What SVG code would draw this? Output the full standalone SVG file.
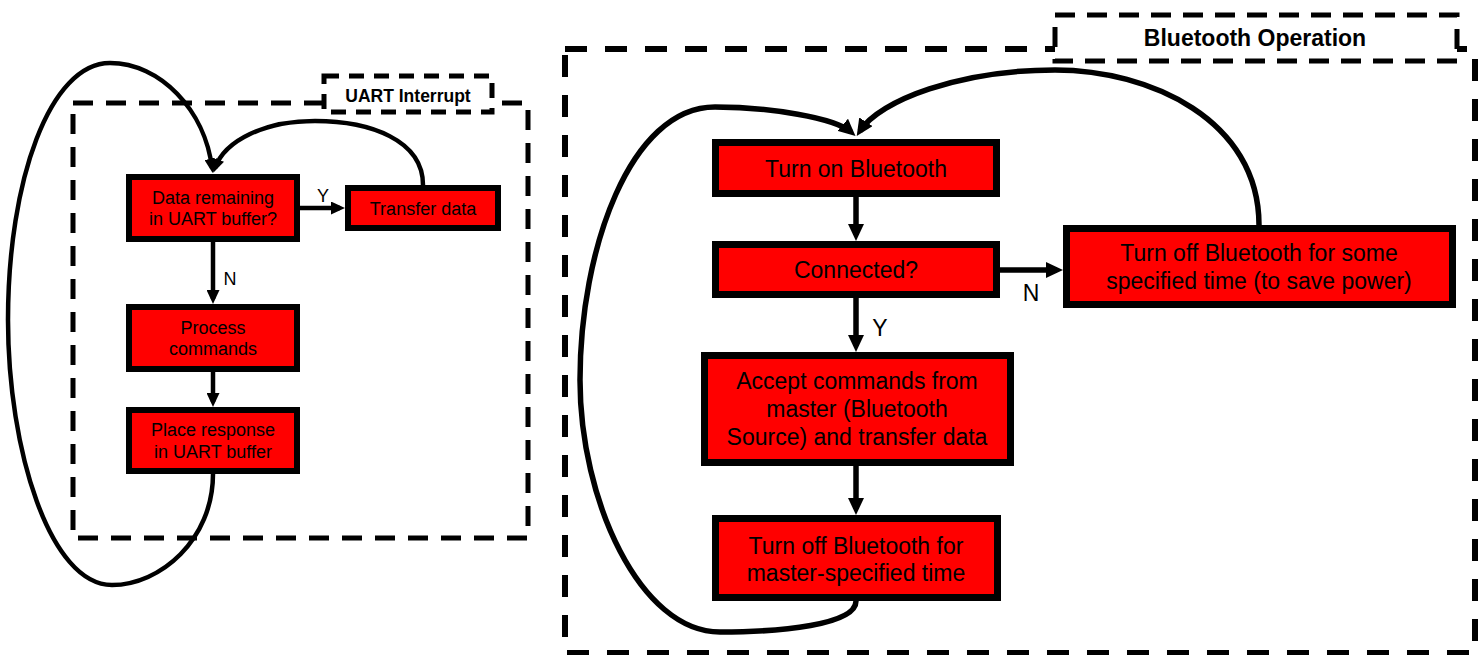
<svg xmlns="http://www.w3.org/2000/svg" width="1481" height="655" viewBox="0 0 1481 655">
<style>
.bg{fill:#ffffff}
.dl{fill:none;stroke:#000;stroke-width:5;stroke-dasharray:20 13}
.dr{fill:none;stroke:#000;stroke-width:6;stroke-dasharray:22 18}
.lbl{fill:#fff;stroke:#000;stroke-width:5;stroke-dasharray:15 10}
.lblr{fill:#fff;stroke:#000;stroke-width:5;stroke-dasharray:20 12}
.nl{fill:#ff0000;stroke:#000;stroke-width:6}
.nr{fill:#ff0000;stroke:#000;stroke-width:7}
.tl{font-family:"Liberation Sans",Arial,sans-serif;font-size:18px;fill:#000;text-anchor:middle}
.tr{font-family:"Liberation Sans",Arial,sans-serif;font-size:23px;fill:#000;text-anchor:middle}
.cl{fill:none;stroke:#000;stroke-width:4.5}
.cr{fill:none;stroke:#000;stroke-width:5.5}
.title{font-family:"Liberation Sans",Arial,sans-serif;font-weight:bold;fill:#000;text-anchor:middle}
</style>
<defs>
<marker id="al" markerUnits="userSpaceOnUse" markerWidth="14" markerHeight="13" refX="9" refY="6.5" orient="auto" viewBox="0 0 14 13">
<path d="M0,0 L14,6.5 L0,13 z" fill="#000"/>
</marker>
<marker id="ar" markerUnits="userSpaceOnUse" markerWidth="17" markerHeight="16" refX="11" refY="8" orient="auto" viewBox="0 0 17 16">
<path d="M0,0 L17,8 L0,16 z" fill="#000"/>
</marker>
</defs>
<rect class="bg" x="0" y="0" width="1481" height="655"/>

<g id="uart-frame">
<rect class="dl" x="73" y="103" width="455" height="435"/>
<rect class="lbl" x="324" y="76" width="168" height="36"/>
<text class="title" x="408" y="101.5" font-size="17.5">UART Interrupt</text>
</g>

<g id="bt-frame">
<rect class="dr" x="565" y="49" width="910" height="604"/>
<rect class="lblr" x="1055" y="15" width="402" height="46"/>
<text class="title" x="1255" y="45.5" font-size="23">Bluetooth Operation</text>
</g>

<g id="connectors">
<path class="cl" d="M300,208 H340" marker-end="url(#al)"/>
<text class="tl" x="323" y="202" font-size="17">Y</text>
<path class="cl" d="M213,242 V299" marker-end="url(#al)"/>
<text class="tl" x="230" y="285" font-size="17">N</text>
<path class="cl" d="M213,372 V402" marker-end="url(#al)"/>
<path class="cl" d="M423,185 C423,140 370,121 315,121 C265,121 225,140 215,168" marker-end="url(#al)"/>
<path class="cl" d="M213,474 C213,540 160,585 112,585 C50,585 8,450 8,320 C8,180 50,63 110,63 C160,63 205,110 212,168" marker-end="url(#al)"/>

<path class="cr" d="M856,197 V235" marker-end="url(#ar)"/>
<path class="cr" d="M1000,270 H1057" marker-end="url(#ar)"/>
<text class="tr" x="1031" y="301" font-size="22">N</text>
<path class="cr" d="M856,298 V346" marker-end="url(#ar)"/>
<text class="tr" x="880" y="336" font-size="22">Y</text>
<path class="cr" d="M856,466 V509" marker-end="url(#ar)"/>
<path class="cr" d="M1259,225 C1259,120 1150,70 1055,70 C960,70 880,100 860,131" marker-end="url(#ar)"/>
<path class="cr" d="M856,601 C856,625 780,632 720,632 C640,632 580,500 580,380 C580,250 630,107 715,107 C770,107 835,118 851,132" marker-end="url(#ar)"/>
</g>

<g id="n-data">
<rect class="nl" x="129" y="177" width="168" height="62"/>
<text class="tl" x="213" y="203.5">Data remaining</text>
<text class="tl" x="213" y="225">in UART buffer?</text>
</g>
<g id="n-transfer">
<rect class="nl" x="348" y="188" width="150" height="40"/>
<text class="tl" x="423" y="214.5">Transfer data</text>
</g>
<g id="n-process">
<rect class="nl" x="129" y="307" width="168" height="62"/>
<text class="tl" x="213" y="333.5">Process</text>
<text class="tl" x="213" y="355">commands</text>
</g>
<g id="n-place">
<rect class="nl" x="129" y="410" width="168" height="61"/>
<text class="tl" x="213" y="436">Place response</text>
<text class="tl" x="213" y="457.5">in UART buffer</text>
</g>

<g id="n-turnon">
<rect class="nr" x="715.5" y="142.5" width="281" height="51"/>
<text class="tr" x="856" y="176.5">Turn on Bluetooth</text>
</g>
<g id="n-connected">
<rect class="nr" x="715.5" y="244.5" width="281" height="50"/>
<text class="tr" x="856" y="278">Connected?</text>
</g>
<g id="n-turnoff-some">
<rect class="nr" x="1066.5" y="228.5" width="386" height="76"/>
<text class="tr" x="1259" y="261">Turn off Bluetooth for some</text>
<text class="tr" x="1259" y="289">specified time (to save power)</text>
</g>
<g id="n-accept">
<rect class="nr" x="704.5" y="355.5" width="306" height="107"/>
<text class="tr" x="857" y="389">Accept commands from</text>
<text class="tr" x="857" y="417">master (Bluetooth</text>
<text class="tr" x="857" y="445">Source) and transfer data</text>
</g>
<g id="n-turnoff-master">
<rect class="nr" x="715.5" y="518.5" width="282" height="79"/>
<text class="tr" x="856" y="554">Turn off Bluetooth for</text>
<text class="tr" x="856" y="581">master-specified time</text>
</g>
</svg>
